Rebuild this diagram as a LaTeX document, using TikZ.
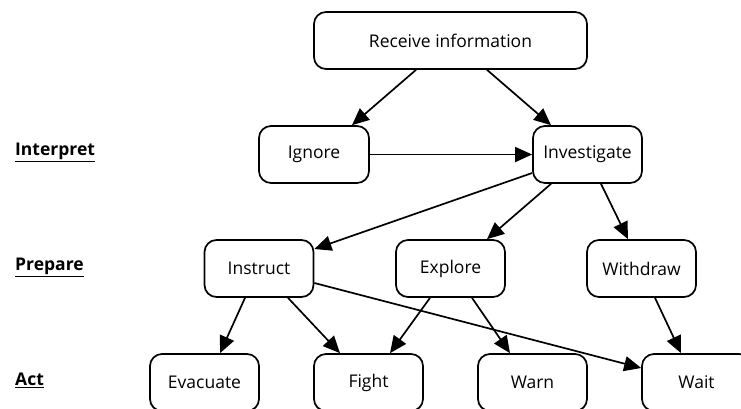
\documentclass[tikz,border=0pt]{standalone}
\usepackage{fontspec}
\setmainfont{Open Sans}
\usetikzlibrary{arrows.meta}
\begin{document}
\begin{tikzpicture}[x=1pt,y=-1pt,
  box/.style={draw,line width=1.7pt,rounded corners=12pt,minimum width=109pt,minimum height=57pt,inner sep=0pt,font=\fontsize{17.5}{20}\selectfont},
  lbl/.style={anchor=west,inner sep=0pt,font=\fontsize{17.5}{20}\selectfont\bfseries},
  arr/.style={line width=1.7pt,-{Triangle[length=17pt,width=15pt]}}]
\useasboundingbox (0,0) rectangle (741,408);
\clip (0,0) rectangle (741,408);
\node[box,minimum width=273pt] (rec) at (450.5,40.5) {Receive information};
\node[box,minimum width=110pt] (ign) at (314,154.5) {Ignore};
\node[box] (inv) at (587.5,154.5) {Investigate};
\node[box] (ins) at (259,268.5) {Instruct};
\node[box] (exp) at (450.5,268.5) {Explore};
\node[box] (wd) at (641.5,268.5) {Withdraw};
\node[box] (eva) at (204.5,382.5) {Evacuate};
\node[box] (fig) at (368.5,382.5) {Fight};
\node[box] (war) at (532.5,382.5) {Warn};
\node[box] (wai) at (696.5,382.5) {Wait};
\node[lbl] (l1) at (15,152) {\underline{Interpret}};
\node[lbl] (l2) at (15,267) {\underline{Prepare}};
\node[lbl] (l3) at (15,380) {\underline{Act}};
\draw[arr] ([xshift=-34.5pt]rec.south) -- ([xshift=38pt]ign.north);
\draw[arr] ([xshift=36.5pt]rec.south) -- ([xshift=-36.5pt]inv.north);
\draw[arr] (ign.east) -- (inv.west);
\draw[arr] ([yshift=-18.5pt]inv.west) -- ([yshift=19.5pt]ins.east);
\draw[arr] ([xshift=-36.5pt]inv.south) -- ([xshift=36.5pt]exp.north);
\draw[arr] ([xshift=13.5pt]inv.south) -- ([xshift=-13.5pt]wd.north);
\draw[arr] ([xshift=-14pt]ins.south) -- ([xshift=15.5pt]eva.north);
\draw[arr] ([xshift=29pt]ins.south) -- ([xshift=-28.5pt]fig.north);
\draw[arr] ([yshift=-14.5pt]ins.east) -- ([yshift=14.5pt]wai.west);
\draw[arr] ([xshift=-20.5pt]exp.south) -- ([xshift=21.5pt]fig.north);
\draw[arr] ([xshift=21.5pt]exp.south) -- ([xshift=-22.5pt]war.north);
\draw[arr] ([xshift=13.5pt]wd.south) -- ([xshift=-15.5pt]wai.north);
\end{tikzpicture}
\end{document}
